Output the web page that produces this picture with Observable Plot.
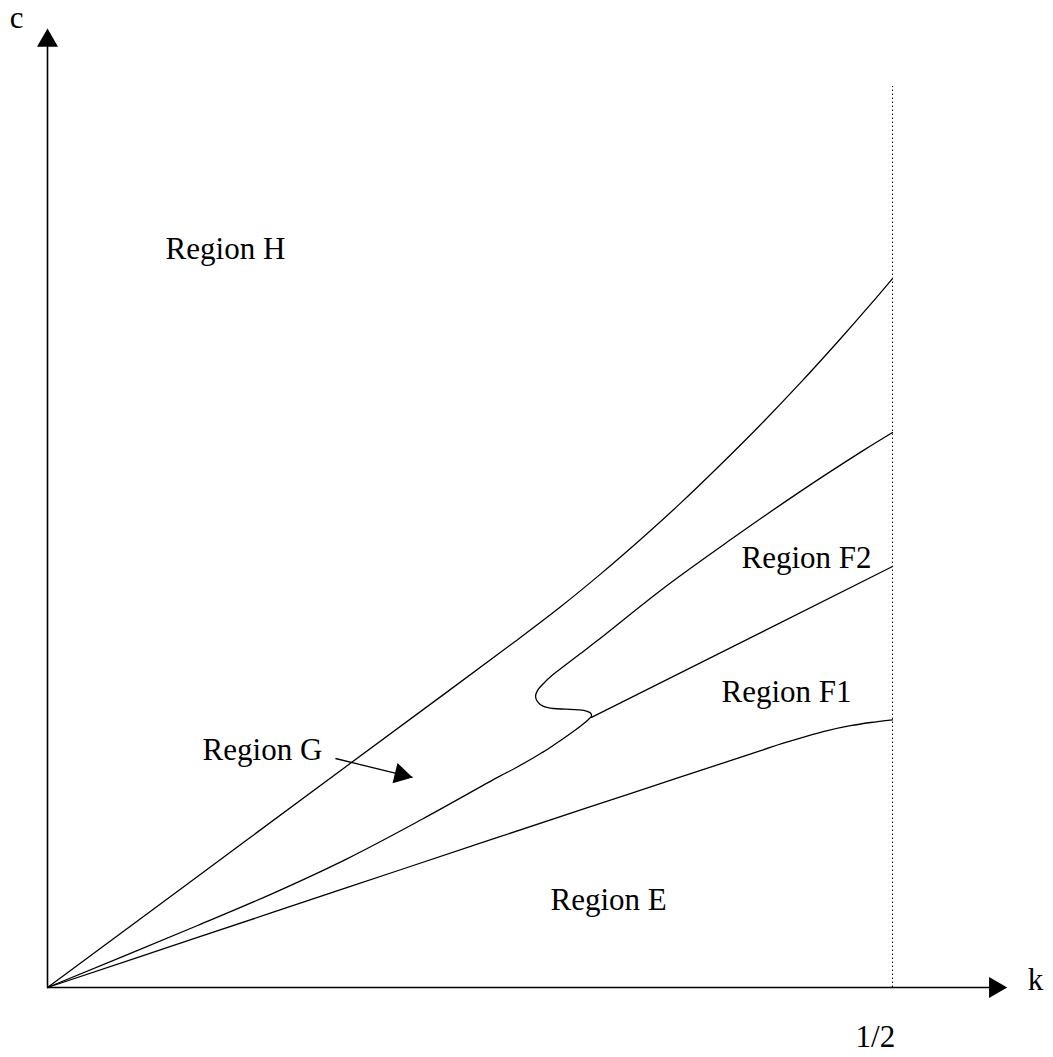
<!DOCTYPE html>
<html>
<head>
<meta charset="utf-8">
<script src="https://cdn.jsdelivr.net/npm/d3@7"></script>
<script src="https://cdn.jsdelivr.net/npm/@observablehq/plot@0.6"></script>
<style>
  html, body { margin: 0; padding: 0; background: white; }
</style>
</head>
<body>
<script>
// ---- Data (k, c) ----
// Boundary between Region H and Region G
const curveHk = [0, 0.0888, 0.1775, 0.2385, 0.2769, 0.3036, 0.3272, 0.3509, 0.3746, 0.3982, 0.4219, 0.4456, 0.4692, 0.4870, 0.5];
const curveHc = [0, 0.0657, 0.1314, 0.1764, 0.2049, 0.2253, 0.2446, 0.2651, 0.2866, 0.3093, 0.3330, 0.3579, 0.3839, 0.4042, 0.4195];

// Lower boundary of Region G, with the fold, continuing as upper boundary of F2
const curveGk = [0, 0.0888, 0.1331, 0.1775, 0.2219, 0.2663, 0.2769, 0.2858, 0.2947, 0.3036, 0.3107, 0.3166, 0.3201, 0.3219, 0.3213, 0.3189, 0.3142, 0.3065, 0.2994, 0.2935, 0.2899, 0.2888, 0.2899, 0.2935, 0.2988, 0.3053, 0.3154, 0.3254, 0.3645, 0.4041, 0.4438, 0.4828, 0.5];
const curveGc = [0, 0.0367, 0.0556, 0.0763, 0.0997, 0.1243, 0.1299, 0.1349, 0.1402, 0.1462, 0.1512, 0.1556, 0.1586, 0.1607, 0.1624, 0.1636, 0.1643, 0.1647, 0.1651, 0.1663, 0.1692, 0.1722, 0.1757, 0.1799, 0.1849, 0.1899, 0.1976, 0.2053, 0.2363, 0.2649, 0.2924, 0.3178, 0.3284];

// Boundary between F2 and F1 (straight)
const curveFk = [0.3219, 0.5];
const curveFc = [0.1598, 0.2491];

// Boundary between F1 and E
const curveEk = [0, 0.0888, 0.1775, 0.2663, 0.3444, 0.4225, 0.4349, 0.4485, 0.4615, 0.4751, 0.4870, 0.5];
const curveEc = [0, 0.0296, 0.0592, 0.0888, 0.1146, 0.1403, 0.1444, 0.1485, 0.1520, 0.1549, 0.1568, 0.1584];

// Region labels
const regionNames = ["Region H", "Region G", "Region F2", "Region F1", "Region E"];
const regionK = [0.1053, 0.1272, 0.4491, 0.4373, 0.3320];
const regionC = [0.4308, 0.1349, 0.2485, 0.1692, 0.0456];

// Axis labels and tick label
const axisNames = ["c", "k", "1/2"];
const axisK = [-0.0183, 0.5846, 0.4899];
const axisC = [0.5675, -0.0012, -0.0355];

// Axis extents (arrow tips) and the dotted line at k = 1/2
const kTip = 0.568;
const cTip = 0.5675;
const kHalf = 0.5;
const dottedTop = 0.5331;

// Arrow from "Region G" label into the region
const gArrowK = [0.1704, 0.2160];
const gArrowC = [0.1355, 0.1243];

// ---- build tables ----
const zip = (ks, cs) => ks.map((k, i) => ({k, c: cs[i]}));
const curveH = zip(curveHk, curveHc);
const curveG = zip(curveGk, curveGc);
const curveF = zip(curveFk, curveFc);
const curveE = zip(curveEk, curveEc);
const regions = regionNames.map((t, i) => ({t, k: regionK[i], c: regionC[i]}));
const axisLabels = axisNames.map((t, i) => ({t, k: axisK[i], c: axisC[i]}));

const W = 1053, H = 1057;
const pxPerUnit = 1690, ox = 47, oy = 987;

const triR = 7.8;
const angG = Math.atan2((gArrowC[0] - gArrowC[1]) * pxPerUnit, (gArrowK[1] - gArrowK[0]) * pxPerUnit) * 180 / Math.PI;

const chart = Plot.plot({
  width: W,
  height: H,
  margin: 0,
  style: {fontFamily: "'Liberation Serif', 'Times New Roman', serif", background: "white"},
  x: {domain: [-ox / pxPerUnit, (W - ox) / pxPerUnit], axis: null},
  y: {domain: [-(H - oy) / pxPerUnit, oy / pxPerUnit], axis: null},
  marks: [
    // dotted line at k = 1/2
    Plot.ruleX([kHalf], {y1: 0, y2: dottedTop, stroke: "black", strokeWidth: 1, strokeDasharray: "1.4,2.6"}),
    // axes
    Plot.ruleY([0], {x1: 0, x2: kTip - 0.008, stroke: "black", strokeWidth: 1.6}),
    Plot.ruleX([0], {y1: 0, y2: cTip - 0.008, stroke: "black", strokeWidth: 1.6}),
    Plot.dot([{k: kTip, c: 0}], {x: "k", y: "c", symbol: "triangle", r: triR, fill: "black", stroke: "none", rotate: 90, dx: -12.3}),
    Plot.dot([{k: 0, c: cTip}], {x: "k", y: "c", symbol: "triangle", r: triR, fill: "black", stroke: "none", dy: 12.3}),
    // curves
    Plot.line(curveH, {x: "k", y: "c", curve: "catmull-rom", stroke: "black", strokeWidth: 1.3}),
    Plot.line(curveG, {x: "k", y: "c", curve: "catmull-rom", stroke: "black", strokeWidth: 1.3}),
    Plot.line(curveF, {x: "k", y: "c", curve: "linear", stroke: "black", strokeWidth: 1.3}),
    Plot.line(curveE, {x: "k", y: "c", curve: "catmull-rom", stroke: "black", strokeWidth: 1.3}),
    // Region G pointer arrow
    Plot.link([{k1: gArrowK[0], c1: gArrowC[0], k2: gArrowK[1], c2: gArrowC[1]}], {x1: "k1", y1: "c1", x2: "k2", y2: "c2", stroke: "black", strokeWidth: 1.3}),
    Plot.dot([{k: gArrowK[1], c: gArrowC[1]}], {x: "k", y: "c", symbol: "triangle", r: triR, fill: "black", stroke: "none",
      rotate: 90 + angG, dx: -12 * Math.cos(angG * Math.PI / 180), dy: -12 * Math.sin(angG * Math.PI / 180)}),
    // labels
    Plot.text(regions, {x: "k", y: "c", text: "t", fontSize: 31, lineAnchor: "bottom", fill: "black"}),
    Plot.text(axisLabels, {x: "k", y: "c", text: "t", fontSize: 31, lineAnchor: "bottom", fill: "black"})
  ]
});
document.body.appendChild(chart);
</script>
</body>
</html>
